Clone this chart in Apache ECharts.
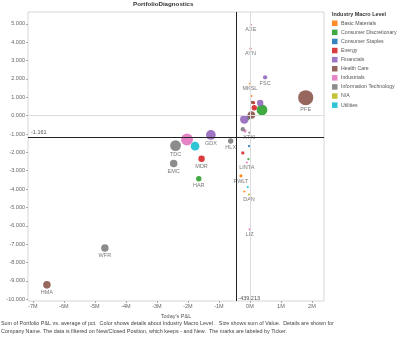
<!DOCTYPE html>
<html><head><meta charset="utf-8">
<script src="https://cdn.jsdelivr.net/npm/echarts@6/dist/echarts.min.js"></script>
<style>html,body{margin:0;padding:0;background:#fff}#c{width:400px;height:342px}</style>
</head><body><div id="c"></div>
<script>
// ---- data ----
const industries = ['Basic Materials','Consumer Discretionary','Consumer Staples','Energy','Financials','Health Care','Industrials','Information Technology','N/A','Utilities'];
const tickers = ['AXE','AYN','FSC','MKSL','','PFE','','','','','','','','','','','','XTXI','','','','LINTA','PWLT','','','DAN','LIZ','','','GDX','HLX','TDC','EMC','MDR','HAR','WFR','HMA'];
const sector  = ['Industrials','Energy','Financials','Basic Materials','Basic Materials','Health Care','Financials','Consumer Discretionary','Energy','Energy','Health Care','Financials','Health Care','Financials','Consumer Discretionary','Information Technology','Industrials','Information Technology','Energy','Consumer Staples','Consumer Discretionary','Industrials','Basic Materials','Basic Materials','Utilities','N/A','Industrials','Industrials','Utilities','Financials','Information Technology','Information Technology','Information Technology','Energy','Consumer Discretionary','Information Technology','Health Care'];
const pnl     = [30000,20000,490000,0,50000,1800000,330000,390000,140000,120000,70000,-180000,50000,0,-50000,-230000,-160000,-20000,-230000,-30000,-50000,-100000,-290000,-180000,-70000,-30000,-10000,-2030000,-1770000,-1260000,-620000,-2400000,-2460000,-1560000,-1650000,-4680000,-6550000];
const pct     = [4.95,3.66,2.09,1.75,1.07,0.98,0.69,0.31,0.43,0.71,0.73,-0.20,0.04,0.00,-0.12,-0.74,-0.83,-0.92,-2.03,-1.66,-2.37,-2.55,-3.28,-4.13,-3.89,-4.30,-6.20,-1.30,-1.66,-1.05,-1.38,-1.63,-2.61,-2.35,-3.44,-7.21,-9.22];
const value   = [16,16,64,16,16,784,144,400,100,36,36,256,196,100,64,64,36,16,36,16,16,16,36,16,16,16,16,484,256,324,100,400,196,144,100,196,196];
const xTicks = [-7000000,-6000000,-5000000,-4000000,-3000000,-2000000,-1000000,0,1000000,2000000];
const yTicks = [-10,-9,-8,-7,-6,-5,-4,-3,-2,-1,0,1,2,3,4,5];
const refX = -439213;
const refY = -1.161;

// ---- styles ----
const palette = ['#FF7F0E','#2CA02C','#1F77B4','#D62728','#9467BD','#8C564B','#E377C2','#7F7F7F','#BCBD22','#17BECF'];
const FONT = '"Liberation Sans", Arial, sans-serif';
const X_MIN = -7160000, X_MAX = 2390000, Y_MIN = -10.1, Y_MAX = 5.65;

const chart = echarts.init(document.getElementById('c'), null, {renderer:'canvas'});

const series = industries.map((ind, k) => {
  const data = [];
  for (let i = 0; i < tickers.length; i++) {
    if (sector[i] === ind) data.push({value:[pnl[i], pct[i], value[i]], name:tickers[i]});
  }
  return {
    name: ind, type: 'scatter', data,
    symbolSize: v => 0.54 * Math.sqrt(v[2]),
    itemStyle: {color: palette[k], opacity: 0.9},
    label: {show: true, position: 'bottom', distance: 1, fontSize: 5.5, color: '#6a6a6a', fontFamily: FONT,
      formatter: p => p.name || ''},
    emphasis: {disabled: true},
    z: 3
  };
});

// reference & zero lines
series.push({
  type: 'scatter', name: '_lines', data: [], silent: true,
  markLine: {
    silent: true, symbol: 'none', animation: false,
    label: {show: false},
    data: [
      {xAxis: 0, lineStyle: {color: '#dcdcdc', width: 1, type: 'solid'}},
      {yAxis: 0, lineStyle: {color: '#dcdcdc', width: 1, type: 'solid'}},
      {xAxis: refX, lineStyle: {color: '#222', width: 1, type: 'solid'}},
      {yAxis: refY, lineStyle: {color: '#222', width: 1, type: 'solid'}}
    ]
  },
  z: 1
});

const option = {
  animation: false,
  backgroundColor: '#fff',
  textStyle: {fontFamily: FONT},
  title: {text: 'PortfolioDiagnostics', left: 133, top: 1, padding: 0,
    textStyle: {fontSize: 6.2, fontWeight: 'bold', color: '#333', fontFamily: FONT}},
  legend: {
    orient: 'vertical', left: 332, top: 20.5, icon: 'rect', padding: 0,
    itemWidth: 5.5, itemHeight: 5.5, itemGap: 3.6,
    data: industries,
    textStyle: {fontSize: 5.2, color: '#555', fontFamily: FONT, lineHeight: 5.5, padding: [0,0,0,-1.5]},
    selectedMode: false
  },
  grid: {left: 28, top: 12, right: 76, bottom: 41, show: true, borderColor: '#d6d6d6', borderWidth: 1},
  xAxis: {
    type: 'value', min: X_MIN, max: X_MAX,
    name: "Today's P&L", nameLocation: 'middle', nameGap: 9,
    nameTextStyle: {fontSize: 5.5, color: '#555', fontFamily: FONT},
    axisLine: {show: false, onZero: false}, splitLine: {show: false},
    axisTick: {show: true, customValues: xTicks, length: 2, lineStyle: {color: '#aaa'}},
    axisLabel: {customValues: xTicks, fontSize: 5.5, color: '#666', margin: 2,
      formatter: v => Math.round(v / 1e6) + 'M'}
  },
  yAxis: {
    type: 'value', min: Y_MIN, max: Y_MAX,
    axisLine: {show: false, onZero: false}, splitLine: {show: false},
    axisTick: {show: true, customValues: yTicks, length: 2, lineStyle: {color: '#aaa'}},
    axisLabel: {customValues: yTicks, fontSize: 5.5, color: '#666', margin: 3,
      formatter: v => v.toFixed(3)}
  },
  series
};
chart.setOption(option);

const pY = chart.convertToPixel({gridIndex: 0}, [X_MIN, refY]);
const pX = chart.convertToPixel({gridIndex: 0}, [refX, Y_MIN]);
chart.setOption({
  graphic: [
    {type: 'text', left: pY[0] + 3, top: pY[1] - 7,
      style: {text: refY.toFixed(3), fontSize: 5.5, fill: '#555', fontFamily: FONT}},
    {type: 'text', left: pX[0] + 2, top: pX[1] - 6,
      style: {text: (refX / 1000).toFixed(3), fontSize: 5.5, fill: '#555', fontFamily: FONT}},
    {type: 'text', left: 332, top: 12.5,
      style: {text: 'Industry Macro Level', fontSize: 5.4, fontWeight: 'bold', fill: '#333', fontFamily: FONT}},
    {type: 'text', left: 1, top: 320,
      style: {text: 'Sum of Portfolio P&L vs. average of pct.  Color shows details about Industry Macro Level .  Size shows sum of Value.  Details are shown for\nCompany Name. The data is filtered on New/Closed Position, which keeps - and New.  The marks are labeled by Ticker.',
        fontSize: 5.4, lineHeight: 8, fill: '#444', fontFamily: FONT}}
  ]
});
</script>
</body></html>
